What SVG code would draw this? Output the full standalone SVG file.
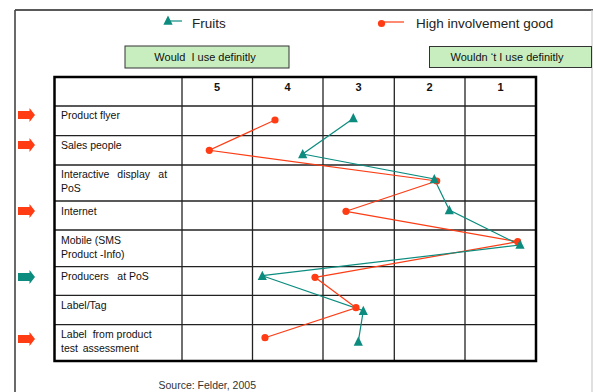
<svg xmlns="http://www.w3.org/2000/svg" width="593" height="392" viewBox="0 0 593 392">
<style>
text{font-family:"Liberation Sans",Arial,sans-serif;fill:#111}
.lbl{font-size:10.5px}
.hdr{font-size:11px;font-weight:bold;text-anchor:middle}
.leg{font-size:13.5px;fill:#222}
.box{fill:#c8eec0;stroke:#333;stroke-width:1}
.boxt{font-size:11px;text-anchor:middle;white-space:pre}
.inner{stroke:#222;stroke-width:1.3}
.outer{fill:none;stroke:#000;stroke-width:2.5}
.teal{stroke:#0b8c7f;stroke-width:1.2;fill:none}
.red{stroke:#ff3c14;stroke-width:1.2;fill:none}
.tri{fill:#0b8c7f}
.dot{fill:#ff3c14}
.arR{fill:#ff3c14}
.arT{fill:#0b8c7f}
</style>
<defs>
<polygon id="tri" points="0,-5 4.6,4.2 -4.6,4.2"/>
<polygon id="arrow" points="18,-4 29.5,-4 29.5,-7 35,0 29.5,7 29.5,4 18,4"/>
</defs>
<rect x="0" y="0" width="593" height="392" fill="#fff"/>
<g id="frame">
<line x1="15" y1="10" x2="593" y2="10" stroke="#222" stroke-width="1.6"/>
<line x1="15" y1="10" x2="15" y2="392" stroke="#444" stroke-width="1.6"/>
<line x1="592" y1="10" x2="592" y2="392" stroke="#ccc" stroke-width="1.2"/>
</g>
<g id="legend-fruits">
<line x1="170" y1="21" x2="182" y2="21" class="teal"/>
<use href="#tri" x="168" y="20.5" class="tri"/>
<text x="192" y="28" class="leg">Fruits</text>
</g>
<g id="legend-high">
<line x1="381" y1="22" x2="404" y2="22" class="red"/>
<circle cx="381.5" cy="23.5" r="3.6" class="dot"/>
<text x="416" y="28" class="leg">High involvement good</text>
</g>
<g id="box-would">
<rect x="125" y="46" width="164" height="22" class="box"/>
<text x="205" y="60.7" class="boxt" xml:space="preserve">Would  I use definitly</text>
</g>
<g id="box-wouldnt">
<rect x="429.5" y="46.5" width="162" height="21" class="box"/>
<text x="507" y="60.5" class="boxt">Wouldn ‘t I use definitly</text>
</g>
<g id="table">
<line x1="182" y1="77" x2="182" y2="361" class="inner"/>
<line x1="252.5" y1="77" x2="252.5" y2="361" class="inner"/>
<line x1="323" y1="77" x2="323" y2="361" class="inner" stroke="#444"/>
<line x1="394.3" y1="77" x2="394.3" y2="361" class="inner"/>
<line x1="465" y1="77" x2="465" y2="361" class="inner"/>
<line x1="54.5" y1="106" x2="536" y2="106" class="inner"/>
<line x1="54.5" y1="135.7" x2="536" y2="135.7" class="inner"/>
<line x1="54.5" y1="165" x2="536" y2="165" class="inner"/>
<line x1="54.5" y1="201" x2="536" y2="201" class="inner"/>
<line x1="54.5" y1="230" x2="536" y2="230" class="inner"/>
<line x1="54.5" y1="266.7" x2="536" y2="266.7" class="inner"/>
<line x1="54.5" y1="295.3" x2="536" y2="295.3" class="inner"/>
<line x1="54.5" y1="324.7" x2="536" y2="324.7" class="inner"/>
<rect x="54.5" y="77" width="481.5" height="284" class="outer"/>
<text x="217" y="90.7" class="hdr">5</text>
<text x="287.5" y="90.7" class="hdr">4</text>
<text x="358.5" y="90.7" class="hdr">3</text>
<text x="429.5" y="90.7" class="hdr">2</text>
<text x="500.5" y="90.7" class="hdr">1</text>
</g>
<g id="row-product-flyer"><use href="#arrow" y="115" class="arR"/><text x="61" y="119.3" class="lbl">Product flyer</text></g>
<g id="row-sales-people"><use href="#arrow" y="145" class="arR"/><text x="61" y="148.6" class="lbl">Sales people</text></g>
<g id="row-interactive"><text y="178.3" class="lbl"><tspan x="61">Interactive</tspan><tspan x="117.3">display</tspan><tspan x="158.3">at</tspan></text><text x="61" y="192" class="lbl">PoS</text></g>
<g id="row-internet"><use href="#arrow" y="211" class="arR"/><text x="61" y="215.3" class="lbl">Internet</text></g>
<g id="row-mobile"><text x="61" y="244.3" class="lbl">Mobile (SMS</text><text x="61" y="257.7" class="lbl">Product -Info)</text></g>
<g id="row-producers"><use href="#arrow" y="277" class="arT"/><text y="280.3" class="lbl"><tspan x="61">Producers</tspan><tspan x="117.3">at PoS</tspan></text></g>
<g id="row-label-tag"><text x="61" y="309" class="lbl">Label/Tag</text></g>
<g id="row-label-test"><use href="#arrow" y="339" class="arR"/><text y="338.3" class="lbl"><tspan x="61">Label</tspan><tspan x="92.7">from product</tspan></text><text y="351.7" class="lbl"><tspan x="61">test</tspan><tspan x="82.7">assessment</tspan></text></g>
<g id="connectors">
<polyline class="red" points="275,120 209.3,150.3 436.7,181 346,211.3 517.7,241.7 315,277.3 356,307.7 265,337.7"/>
<polyline class="teal" points="353.3,118.5 302.7,154 434.3,179 449.3,210 520,245 262.3,275.7 363.3,310.7 358.3,341.7"/>
</g>
<g id="points-red">
<circle cx="275" cy="120" r="3.6" class="dot"/>
<circle cx="209.3" cy="150.3" r="3.6" class="dot"/>
<circle cx="436.7" cy="181" r="3.6" class="dot"/>
<circle cx="346" cy="211.3" r="3.6" class="dot"/>
<circle cx="517.7" cy="241.7" r="3.6" class="dot"/>
<circle cx="315" cy="277.3" r="3.6" class="dot"/>
<circle cx="356" cy="307.7" r="3.6" class="dot"/>
<circle cx="265" cy="337.7" r="3.6" class="dot"/>
</g>
<g id="points-teal">
<use href="#tri" x="353.3" y="118" class="tri"/>
<use href="#tri" x="302.7" y="154" class="tri"/>
<use href="#tri" x="434.3" y="179" class="tri"/>
<use href="#tri" x="449.3" y="210" class="tri"/>
<use href="#tri" x="520" y="244.5" class="tri"/>
<use href="#tri" x="262.3" y="275.7" class="tri"/>
<use href="#tri" x="363.3" y="310.7" class="tri"/>
<use href="#tri" x="358.3" y="341.5" class="tri"/>
</g>
<g id="source"><text x="158.5" y="388.5" style="font-size:10.5px;fill:#333">Source: Felder, 2005</text></g>
</svg>
